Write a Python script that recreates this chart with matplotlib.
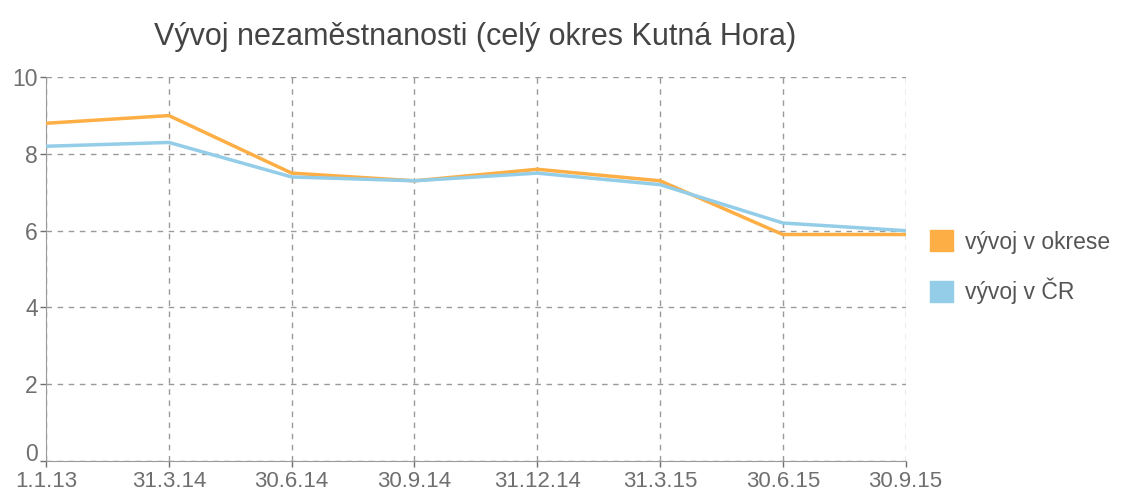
import matplotlib.pyplot as plt
from matplotlib.patches import Patch

plt.rcParams['font.family'] = ['Liberation Sans', 'DejaVu Sans']

dates = ["1.1.13", "31.3.14", "30.6.14", "30.9.14", "31.12.14", "31.3.15", "30.6.15", "30.9.15"]
okres = [8.8, 9.0, 7.5, 7.3, 7.6, 7.3, 5.9, 5.9]
cr = [8.2, 8.3, 7.4, 7.3, 7.5, 7.2, 6.2, 6.0]

orange = "#fdae45"
blue = "#93cde8"
grey = "#6f6f6f"

fig = plt.figure(figsize=(11.25, 4.95), dpi=100)
ax = fig.add_axes([0.041, 0.069, 0.764, 0.775])

x = range(len(dates))
ax.plot(x, okres, color=orange, linewidth=2.5, zorder=3)
ax.plot(x, cr, color=blue, linewidth=2.5, zorder=3)

ax.set_xlim(0, len(dates) - 1)
ax.set_ylim(0, 10)
ax.set_xticks(list(x))
ax.set_xticklabels(dates)
ax.set_yticks([0, 2, 4, 6, 8, 10])
ax.grid(True, linestyle=(0, (4, 4)), color="#9a9a9a", linewidth=1)
ax.tick_params(colors=grey, labelsize=16.5, length=4, width=1)
ax.tick_params(axis="x", pad=3, labelsize=16)
ax.tick_params(axis="y", pad=2)
# sit the "0" label on the axis line so it clears "1.1.13"
ax.get_yticklabels()[0].set_verticalalignment("baseline")
for side in ["top", "right"]:
    ax.spines[side].set_visible(False)
for side in ["left", "bottom"]:
    ax.spines[side].set_color("#9a9a9a")

fig.text(0.422, 0.925, "Vývoj nezaměstnanosti (celý okres Kutná Hora)",
         ha="center", va="center", fontsize=22, color="#444444")

handles = [Patch(color=orange, label="vývoj v okrese"),
           Patch(color=blue, label="vývoj v ČR")]
fig.legend(handles=handles, loc="center left", bbox_to_anchor=(0.808, 0.46),
           frameon=False, fontsize=16.5, labelcolor="#555555",
           handlelength=1.0, handleheight=1.0, labelspacing=1.05, handletextpad=0.55)

fig.savefig("out.png", dpi=100)
